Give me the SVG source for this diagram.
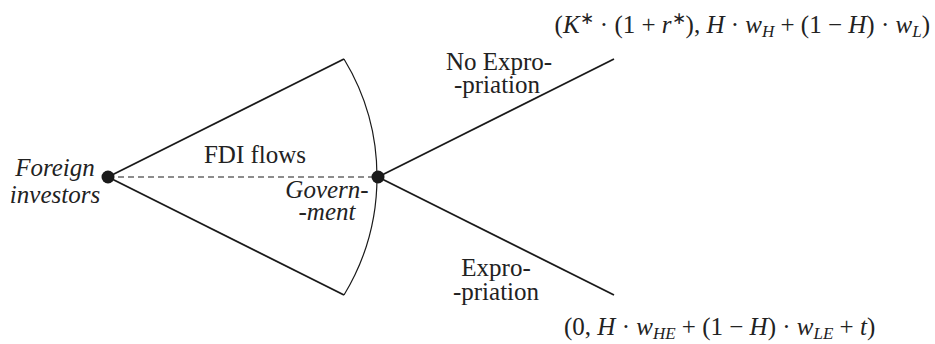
<svg xmlns="http://www.w3.org/2000/svg" width="935" height="344" viewBox="0 0 935 344">
<style>
.ln{stroke:#1a1a1a;stroke-width:1.8;fill:none}
.arc{stroke:#1a1a1a;stroke-width:1.2;fill:none}
.dash{stroke:#1a1a1a;stroke-width:1.2;stroke-dasharray:6 4;fill:none}
.dot{fill:#1a1a1a}
</style>
<rect width="935" height="344" fill="#fff"/>
<g id="connectors">
<line class="ln" x1="108" y1="177" x2="344" y2="59"/>
<line class="ln" x1="108" y1="177" x2="344" y2="295"/>
<path class="arc" d="M344 59 A227.5 227.5 0 0 1 344 295"/>
<line class="dash" x1="108" y1="177" x2="378" y2="177"/>
<line class="ln" x1="378" y1="177" x2="614" y2="59"/>
<line class="ln" x1="378" y1="177" x2="614" y2="295"/>
</g>
<g id="fdi-flows-label">
<text font-family="'Liberation Serif', serif" font-size="25" fill="#222" x="255" y="163" text-anchor="middle">FDI flows</text>
</g>
<g id="no-expropriation-label">
<text font-family="'Liberation Serif', serif" font-size="25" fill="#222" x="499" y="70" text-anchor="middle">No Expro-</text>
<text font-family="'Liberation Serif', serif" font-size="25" fill="#222" x="497" y="93" text-anchor="middle">-priation</text>
</g>
<g id="expropriation-label">
<text font-family="'Liberation Serif', serif" font-size="25" fill="#222" x="496" y="276" text-anchor="middle">Expro-</text>
<text font-family="'Liberation Serif', serif" font-size="25" fill="#222" x="496" y="300" text-anchor="middle">-priation</text>
</g>
<g id="foreign-investors">
<circle class="dot" cx="108" cy="177" r="6.5"/>
<text font-family="'Liberation Serif', serif" font-size="25" fill="#222" font-style="italic" x="55" y="176" text-anchor="middle">Foreign</text>
<text font-family="'Liberation Serif', serif" font-size="25" fill="#222" font-style="italic" x="55" y="203" text-anchor="middle">investors</text>
</g>
<g id="government">
<circle class="dot" cx="378" cy="177" r="6.5"/>
<text font-family="'Liberation Serif', serif" font-size="25" fill="#222" font-style="italic" x="327" y="198" text-anchor="middle">Govern-</text>
<text font-family="'Liberation Serif', serif" font-size="25" fill="#222" font-style="italic" x="327" y="220" text-anchor="middle">-ment</text>
</g>
<g id="payoff-no-expropriation">
<text font-family="'Liberation Serif', serif" font-size="25" fill="#222" x="930" y="33" text-anchor="end">(<tspan font-style="italic">K</tspan><tspan font-size="17" dy="-9">∗</tspan><tspan dy="9"> · (1 + </tspan><tspan font-style="italic">r</tspan><tspan font-size="17" dy="-9">∗</tspan><tspan dy="9">), </tspan><tspan font-style="italic">H</tspan> · <tspan font-style="italic">w</tspan><tspan font-size="17" font-style="italic" dy="4">H</tspan><tspan dy="-4"> + (1 − </tspan><tspan font-style="italic">H</tspan>) · <tspan font-style="italic">w</tspan><tspan font-size="17" font-style="italic" dy="4">L</tspan><tspan dy="-4">)</tspan></text>
</g>
<g id="payoff-expropriation">
<text font-family="'Liberation Serif', serif" font-size="25" fill="#222" x="564" y="335">(0, <tspan font-style="italic">H</tspan> · <tspan font-style="italic">w</tspan><tspan font-size="17" font-style="italic" dy="4">HE</tspan><tspan dy="-4"> + (1 − </tspan><tspan font-style="italic">H</tspan>) · <tspan font-style="italic">w</tspan><tspan font-size="17" font-style="italic" dy="4">LE</tspan><tspan dy="-4"> + </tspan><tspan font-style="italic">t</tspan>)</text>
</g>
</svg>
